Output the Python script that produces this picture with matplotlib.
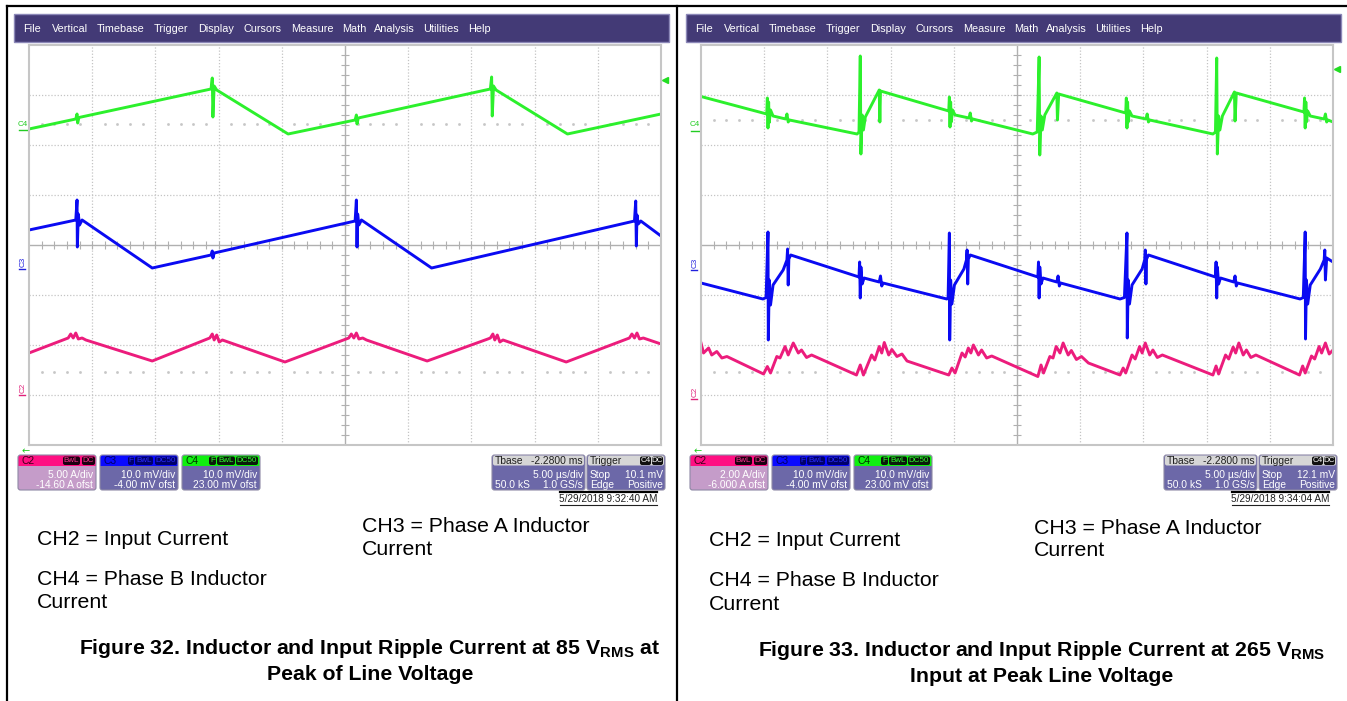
import numpy as np
import matplotlib
matplotlib.use('Agg')
import matplotlib.pyplot as plt
from matplotlib.patches import Rectangle, FancyBboxPatch

plt.rcParams['font.family'] = ['Liberation Sans', 'DejaVu Sans']
plt.rcParams['mathtext.fontset'] = 'custom'
plt.rcParams['mathtext.rm'] = 'Liberation Sans:bold'
plt.rcParams['mathtext.it'] = 'Liberation Sans:bold'
plt.rcParams['mathtext.bf'] = 'Liberation Sans:bold'

# ---- data (time in divisions 0..10, level in divisions 0..8) ----
menu_items = ['File', 'Vertical', 'Timebase', 'Trigger', 'Display', 'Cursors',
              'Measure', 'Math', 'Analysis', 'Utilities', 'Help']

# Figure 32 (85 Vrms)
l_c4_t = [0.0, 0.74, 0.76, 0.77, 0.79, 2.88, 2.90, 2.91, 2.93, 2.97, 4.10, 5.16, 5.18, 5.19, 5.21,
          7.30, 7.32, 7.33, 7.35, 7.39, 8.52, 10.0]
l_c4_v = [6.32, 6.52, 6.62, 6.44, 6.55, 7.12, 7.34, 6.56, 7.18, 7.10, 6.22, 6.50, 6.60, 6.42, 6.54,
          7.12, 7.36, 6.58, 7.18, 7.10, 6.22, 6.62]
l_c3_t = [0.0, 0.74, 0.76, 0.765, 0.78, 0.80, 0.84, 1.95, 2.88, 2.90, 2.91, 2.93, 5.16, 5.18, 5.19,
          5.20, 5.22, 5.26, 6.37, 9.58, 9.60, 9.61, 9.62, 9.64, 9.68, 10.0]
l_c3_v = [4.30, 4.50, 4.90, 3.96, 4.62, 4.40, 4.50, 3.54, 3.80, 3.88, 3.74, 3.84, 4.48, 4.90, 3.96,
          4.62, 4.40, 4.50, 3.54, 4.48, 4.88, 3.98, 4.60, 4.42, 4.48, 4.18]
l_c2_t = [0.0, 0.62, 0.66, 0.70, 0.74, 0.78, 0.84, 0.90, 1.95, 2.82, 2.86, 2.90, 2.93, 2.97, 3.01,
          3.06, 4.05, 5.06, 5.10, 5.14, 5.18, 5.22, 5.28, 5.34, 6.30, 7.26, 7.30, 7.34, 7.37, 7.41,
          7.45, 7.50, 8.50, 9.50, 9.54, 9.58, 9.62, 9.66, 9.72, 10.0]
l_c2_v = [1.84, 2.14, 2.22, 2.14, 2.24, 2.12, 2.14, 2.10, 1.68, 2.12, 2.14, 2.22, 2.10, 2.20, 2.06,
          2.10, 1.66, 2.14, 2.22, 2.14, 2.24, 2.12, 2.14, 2.10, 1.68, 2.12, 2.14, 2.22, 2.10, 2.20,
          2.06, 2.10, 1.66, 2.14, 2.22, 2.14, 2.24, 2.12, 2.14, 2.02]

# Figure 33 (265 Vrms)
r_c4_t = [0.0, 1.04, 1.05, 1.06, 1.07, 1.08, 1.10, 1.14, 1.34, 1.36, 1.38, 1.40, 2.47, 2.50, 2.52,
          2.53, 2.55, 2.57, 2.60, 2.82, 2.83, 2.84, 3.92, 3.93, 3.94, 3.95, 3.96, 3.98, 4.02, 4.24,
          4.26, 4.28, 4.30, 5.25, 5.32, 5.35, 5.36, 5.38, 5.40, 5.44, 5.63, 5.64, 5.66, 6.72, 6.73,
          6.74, 6.75, 6.76, 6.78, 6.82, 7.04, 7.06, 7.08, 7.10, 8.10, 8.14, 8.16, 8.17, 8.19, 8.21,
          8.25, 8.44, 8.45, 8.47, 9.54, 9.55, 9.56, 9.57, 9.58, 9.60, 9.64, 9.86, 9.88, 9.90, 9.92,
          10.0]
r_c4_v = [6.97, 6.62, 6.94, 6.34, 6.86, 6.45, 6.70, 6.58, 6.52, 6.62, 6.46, 6.50, 6.22, 6.26, 7.78,
          5.82, 6.60, 6.30, 6.56, 7.10, 6.46, 7.08, 6.68, 6.96, 6.36, 6.86, 6.46, 6.70, 6.60, 6.54,
          6.64, 6.48, 6.52, 6.22, 6.26, 7.76, 5.80, 6.58, 6.30, 6.60, 7.04, 6.50, 7.02, 6.64, 6.94,
          6.34, 6.86, 6.46, 6.68, 6.58, 6.52, 6.62, 6.46, 6.50, 6.22, 6.26, 7.74, 5.82, 6.58, 6.30,
          6.58, 7.06, 6.48, 7.04, 6.66, 6.94, 6.34, 6.86, 6.46, 6.68, 6.58, 6.52, 6.62, 6.46, 6.50,
          6.46]
r_c3_t = [0.0, 0.98, 1.03, 1.06, 1.065, 1.08, 1.10, 1.14, 1.30, 1.36, 1.37, 1.38, 1.39, 1.42, 2.50,
          2.51, 2.52, 2.53, 2.55, 2.58, 2.82, 2.84, 2.86, 2.88, 3.89, 3.91, 3.93, 3.935, 3.95, 3.97,
          4.01, 4.16, 4.20, 4.21, 4.22, 4.23, 4.26, 5.33, 5.34, 5.35, 5.36, 5.38, 5.41, 5.63, 5.65,
          5.67, 5.69, 6.63, 6.70, 6.74, 6.745, 6.76, 6.78, 6.82, 6.98, 7.02, 7.03, 7.04, 7.05, 7.08,
          8.14, 8.15, 8.16, 8.17, 8.19, 8.22, 8.43, 8.45, 8.47, 8.49, 9.48, 9.53, 9.56, 9.565, 9.58,
          9.60, 9.64, 9.80, 9.86, 9.87, 9.88, 9.90, 10.0]
r_c3_v = [3.24, 2.92, 2.95, 4.26, 2.10, 3.30, 2.80, 3.20, 3.50, 3.70, 3.92, 3.20, 3.72, 3.80, 3.36,
          3.66, 2.94, 3.56, 3.22, 3.34, 3.26, 3.38, 3.18, 3.24, 2.92, 2.95, 4.24, 2.10, 3.30, 2.82,
          3.20, 3.52, 3.70, 3.90, 3.22, 3.72, 3.80, 3.36, 3.66, 2.94, 3.56, 3.22, 3.34, 3.26, 3.38,
          3.18, 3.24, 2.92, 2.95, 4.24, 2.14, 3.30, 2.82, 3.20, 3.52, 3.70, 3.90, 3.22, 3.72, 3.80,
          3.36, 3.66, 2.94, 3.56, 3.22, 3.34, 3.26, 3.38, 3.18, 3.24, 2.92, 2.95, 4.26, 2.12, 3.30,
          2.82, 3.20, 3.52, 3.70, 3.90, 3.30, 3.74, 3.66]
r_c2_t = [0.0, 0.04, 0.12, 0.17, 0.25, 0.33, 0.41, 0.99, 1.05, 1.10, 1.20, 1.25, 1.33, 1.38, 1.46,
          1.54, 1.59, 1.67, 1.75, 2.46, 2.52, 2.57, 2.70, 2.75, 2.82, 2.86, 2.90, 2.97, 3.02, 3.10,
          3.18, 3.26, 3.92, 3.97, 4.02, 4.13, 4.18, 4.23, 4.27, 4.31, 4.39, 4.44, 4.52, 4.60, 5.33,
          5.38, 5.42, 5.52, 5.57, 5.62, 5.68, 5.73, 5.81, 5.86, 5.94, 6.02, 6.13, 6.63, 6.68, 6.72,
          6.82, 6.87, 6.94, 6.98, 7.03, 7.10, 7.15, 7.22, 7.30, 8.10, 8.15, 8.19, 8.30, 8.35, 8.42,
          8.46, 8.51, 8.58, 8.63, 8.70, 8.78, 9.47, 9.52, 9.56, 9.66, 9.71, 9.78, 9.82, 9.88, 9.94,
          10.0]
r_c2_v = [2.04, 1.84, 1.94, 1.80, 1.87, 1.74, 1.77, 1.42, 1.57, 1.44, 1.77, 1.74, 1.97, 1.80, 2.04,
          1.84, 1.90, 1.75, 1.80, 1.40, 1.60, 1.40, 1.80, 1.70, 1.97, 1.84, 2.05, 1.80, 1.91, 1.77,
          1.82, 1.68, 1.40, 1.54, 1.44, 1.84, 1.76, 1.94, 1.84, 2.00, 1.80, 1.90, 1.74, 1.78, 1.37,
          1.60, 1.44, 1.77, 1.74, 1.97, 1.84, 2.04, 1.80, 1.89, 1.71, 1.77, 1.64, 1.40, 1.54, 1.44,
          1.80, 1.72, 1.97, 1.84, 2.04, 1.80, 1.90, 1.75, 1.80, 1.40, 1.58, 1.42, 1.80, 1.72, 1.96,
          1.84, 2.04, 1.80, 1.90, 1.75, 1.80, 1.40, 1.58, 1.44, 1.78, 1.72, 1.97, 1.84, 2.04, 1.82,
          1.90]

left_info = dict(c2=('5.00 A/div', '-14.60 A ofst'), trig='10.1 mV', date='5/29/2018 9:32:40 AM')
right_info = dict(c2=('2.00 A/div', '-6.000 A ofst'), trig='12.1 mV', date='5/29/2018 9:34:04 AM')
c3_info = ('10.0 mV/div', '-4.00 mV ofst')
c4_info = ('10.0 mV/div', '23.00 mV ofst')
tbase_info = ('-2.2800 ms', '5.00 µs/div', '50.0 kS', '1.0 GS/s')

GREEN, BLUE, PINK = '#2cf02c', '#0a0af2', '#ec1c7c'
W, H = 1347, 701
UI = 7.4  # scope ui text size

fig = plt.figure(figsize=(W / 100, H / 100), dpi=100)
bg = fig.add_axes([0, 0, 1, 1])
bg.set_xlim(0, W)
bg.set_ylim(H, 0)
bg.axis('off')

# frame of the document table
bg.plot([7, W], [6, 6], color='black', lw=1.6)
bg.plot([7, 7], [6, H], color='black', lw=1.6)
bg.plot([677, 677], [6, H], color='black', lw=1.6)

menu_x = [23, 52, 97, 154, 198, 243, 291, 342, 374, 423, 468]


def rbox(x0, y0, w, h, fc, ec='none', lw=0.8, r=2.5):
    bg.add_patch(FancyBboxPatch((x0, y0), w, h, boxstyle='round,pad=0,rounding_size=%g' % r,
                                fc=fc, ec=ec, lw=lw))


def badge(x0, x1, label, fc, tc):
    rbox(x0, 456.5, x1 - x0, 8.5, fc, r=2)
    bg.text((x0 + x1) / 2, 461, label, color=tc, fontsize=5.8, ha='center', va='center')


def chan_box(x0, hc, bc, name, ncol, lines, badges):
    x1 = x0 + 78
    rbox(x0, 455, 78, 35, hc)
    rbox(x0, 466, 78, 24, bc)
    bg.add_patch(Rectangle((x0, 466), 78, 5, fc=bc, ec='none'))
    rbox(x0, 455, 78, 35, 'none', ec='#8e8aa6', lw=0.8)
    bg.text(x0 + 3, 461, name, color=ncol, fontsize=UI, ha='left', va='center')
    for bx0, bx1, lab, fc, tc in badges:
        badge(x0 + bx0, x0 + bx1, lab, fc, tc)
    bg.text(x1 - 3, 474.5, lines[0], color='white', fontsize=UI, ha='right', va='center')
    bg.text(x1 - 3, 484.5, lines[1], color='white', fontsize=UI, ha='right', va='center')


def draw_panel(dx, traces, info, trig_y, c_lab_y):
    # menu bar
    bg.add_patch(Rectangle((14 + dx, 14), 655, 28, fc='#433a76', ec='#8c88b8', lw=1))
    for name, x in zip(menu_items, menu_x):
        bg.text(x + dx, 28.5, name, color='white', fontsize=7.8, ha='left', va='center')

    # grid area
    ax = fig.add_axes([(29 + dx) / W, (H - 445) / H, 632 / W, 400 / H])
    ax.set_xlim(0, 10)
    ax.set_ylim(0, 8)
    ax.set_xticks([])
    ax.set_yticks([])
    for s in ax.spines.values():
        s.set_color('#c6c6c6')
        s.set_linewidth(1.5)
    for k in range(1, 10):
        if k != 5:
            ax.axvline(k, color='#c4c4c4', lw=0.9, ls=(0, (1, 1.5)))
    for k in range(1, 8):
        if k != 4:
            ax.axhline(k, color='#c4c4c4', lw=0.9, ls=(0, (1, 1.5)))
    ax.axvline(5, color='#b0b0b0', lw=1.0)
    ax.axhline(4, color='#b0b0b0', lw=1.0)
    ax.vlines(np.arange(0.2, 10, 0.2), 3.92, 4.08, color='#b0b0b0', lw=0.8)
    ax.hlines(np.arange(0.2, 8, 0.2), 4.94, 5.06, color='#b0b0b0', lw=0.8)
    dots = [d for d in np.arange(0.2, 10, 0.2) if abs(d - round(d)) > 0.05]
    for lev in c_lab_y[3:]:
        ax.plot(dots, [lev] * len(dots), ls='none', marker='s', ms=0.9, color='#c6c6c6')

    for (t, v), col in zip(traces, [GREEN, BLUE, PINK]):
        ax.plot(t, v, color=col, lw=2.1, solid_joinstyle='round')

    # channel markers
    y4, y3, y2 = c_lab_y[:3]
    bg.text(18 + dx, y4, 'C4', color='#22cc22', fontsize=5.8, ha='left', va='center')
    bg.plot([19 + dx, 29 + dx], [y4 + 6, y4 + 6], color='#22cc22', lw=1)
    bg.text(23 + dx, y3, 'C3', color='#2020dd', fontsize=5.8, rotation=90, ha='center', va='center')
    bg.plot([19 + dx, 25 + dx], [y3 + 7, y3 + 7], color='#2020dd', lw=1)
    bg.text(23 + dx, y2, 'C2', color='#e0207a', fontsize=5.8, rotation=90, ha='center', va='center')
    bg.plot([19 + dx, 25 + dx], [y2 + 7, y2 + 7], color='#e0207a', lw=1)
    bg.plot(665 + dx, trig_y, marker='<', ms=5, color='#22dd22')
    bg.text(26 + dx, 451, '←', color='#22cc22', fontsize=7, ha='center', va='center',
            family=['DejaVu Sans'])

    # channel boxes
    chan_box(18 + dx, '#ff0f82', '#c59cc9', 'C2', '#3a0018', info['c2'],
             [(45, 62, 'BwL', '#1a0010', '#ff3090'), (64, 77, 'DC', '#1a0010', '#ff3090')])
    chan_box(100 + dx, '#0a0aff', '#6c68a8', 'C3', '#000060', c3_info,
             [(28, 34, 'F', '#00006a', '#2a2aff'), (35, 53, 'BwL', '#00006a', '#2a2aff'),
              (55, 77, 'DC50', '#00006a', '#2a2aff')])
    chan_box(182 + dx, '#10f010', '#6c68a8', 'C4', '#003000', c4_info,
             [(27, 34, 'F', '#0a1a0a', '#30ff30'), (35, 53, 'BwL', '#0a1a0a', '#30ff30'),
              (54, 76, 'DC50', '#0a1a0a', '#30ff30')])

    # timebase / trigger boxes
    for x0, w in [(492 + dx, 93), (587 + dx, 78)]:
        rbox(x0, 455, w, 35, '#6c68a8', ec='#8e8aa6')
        rbox(x0 + 1, 455.5, w - 2, 10, '#d6d6d6', r=2)
    tb = 492 + dx
    bg.text(tb + 3, 460.5, 'Tbase', color='#202020', fontsize=UI, ha='left', va='center')
    bg.text(tb + 91, 460.5, tbase_info[0], color='#202020', fontsize=UI, ha='right', va='center')
    bg.text(tb + 91, 474.5, tbase_info[1], color='white', fontsize=UI, ha='right', va='center')
    bg.text(tb + 3, 484.5, tbase_info[2], color='white', fontsize=UI, ha='left', va='center')
    bg.text(tb + 91, 484.5, tbase_info[3], color='white', fontsize=UI, ha='right', va='center')
    tr = 587 + dx
    bg.text(tr + 3, 460.5, 'Trigger', color='#202020', fontsize=UI, ha='left', va='center')
    badge(tr + 53, tr + 64, 'C4', '#111111', 'white')
    badge(tr + 65, tr + 76, 'DC', '#111111', 'white')
    bg.text(tr + 3, 474.5, 'Stop', color='white', fontsize=UI, ha='left', va='center')
    bg.text(tr + 76, 474.5, info['trig'], color='white', fontsize=UI, ha='right', va='center')
    bg.text(tr + 3, 484.5, 'Edge', color='white', fontsize=UI, ha='left', va='center')
    bg.text(tr + 76, 484.5, 'Positive', color='white', fontsize=UI, ha='right', va='center')

    bg.plot([560 + dx, 657 + dx], [492, 492], color='black', lw=1.6)
    bg.text(608.5 + dx, 499, info['date'], color='#202020', fontsize=7.2, ha='center', va='center')
    bg.plot([560 + dx, 657 + dx], [505, 505], color='#202020', lw=0.8)


draw_panel(0, [(l_c4_t, l_c4_v), (l_c3_t, l_c3_v), (l_c2_t, l_c2_v)], left_info, 80,
           [124, 262, 388, 6.42, 1.46])
draw_panel(672, [(r_c4_t, r_c4_v), (r_c3_t, r_c3_v), (r_c2_t, r_c2_v)], right_info, 69,
           [125, 263, 392, 6.5, 1.46])

# captions
FS = 15.3
for dx, dy in [(0, 0), (672, 1.5)]:
    bg.text(37 + dx, 545 + dy, 'CH2 = Input Current', fontsize=FS, va='baseline')
    bg.text(37 + dx, 585 + dy, 'CH4 = Phase B Inductor', fontsize=FS, va='baseline')
    bg.text(37 + dx, 608 + dy, 'Current', fontsize=FS, va='baseline')
    bg.text(362 + dx, 532 + dy, 'CH3 = Phase A Inductor', fontsize=FS, va='baseline')
    bg.text(362 + dx, 555 + dy, 'Current', fontsize=FS, va='baseline')

bg.text(370, 649, r'Figure 32. Inductor and Input Ripple Current at 85 V$_{\mathrm{RMS}}$ at',
        fontsize=FS, fontweight='bold', ha='center', va='center')
bg.text(370, 675, 'Peak of Line Voltage', fontsize=FS, fontweight='bold', ha='center', va='center')
bg.text(1042, 651, r'Figure 33. Inductor and Input Ripple Current at 265 V$_{\mathrm{RMS}}$',
        fontsize=FS, fontweight='bold', ha='center', va='center')
bg.text(1042, 677, 'Input at Peak Line Voltage', fontsize=FS, fontweight='bold', ha='center',
        va='center')

fig.savefig('out.png', dpi=100)
